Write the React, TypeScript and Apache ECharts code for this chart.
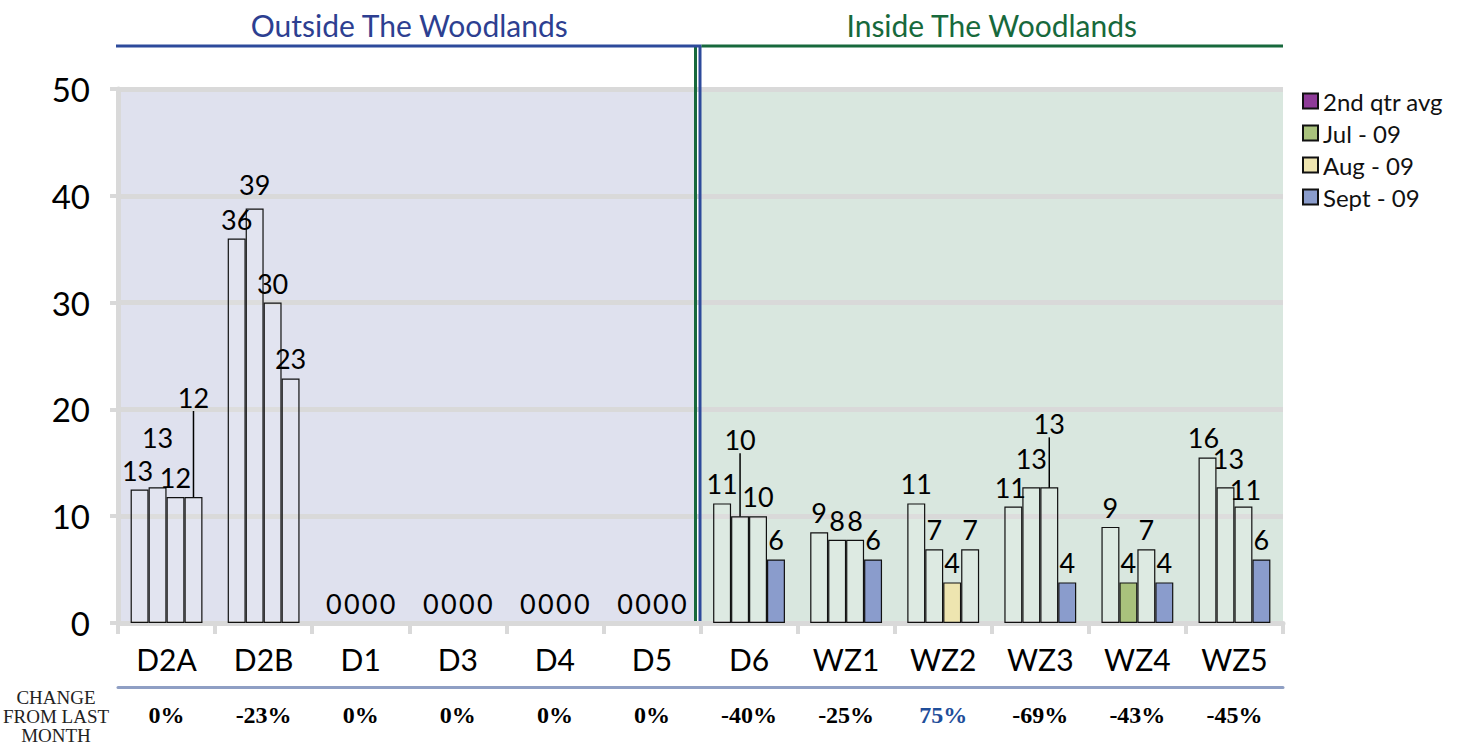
import React, { useEffect, useRef } from "react";
import * as echarts from "echarts";

// ---------- data ----------
const categories = ["D2A", "D2B", "D1", "D3", "D4", "D5", "D6", "WZ1", "WZ2", "WZ3", "WZ4", "WZ5"];
const qtrAvg = [12.5, 36.0, 0, 0, 0, 0, 11.2, 8.5, 11.2, 10.9, 9.0, 15.5];
const jul09 = [12.7, 38.8, 0, 0, 0, 0, 10.0, 7.8, 6.9, 12.7, 3.8, 12.7];
const aug09 = [11.8, 30.0, 0, 0, 0, 0, 10.0, 7.8, 3.8, 12.7, 6.9, 10.9];
const sept09 = [11.8, 22.9, 0, 0, 0, 0, 5.95, 5.95, 6.9, 3.8, 3.8, 5.95];
const changeFromLastMonth = [0, -23, 0, 0, 0, 0, -40, -25, 75, -69, -43, -45];
const yTicks = [0, 10, 20, 30, 40, 50];

// which bars are drawn filled with the series colour
const filledBars: Record<string, string[]> = {
  "2nd qtr avg": [],
  "Jul - 09": ["WZ4"],
  "Aug - 09": ["WZ2"],
  "Sept - 09": ["D6", "WZ1", "WZ3", "WZ4", "WZ5"],
};
// labels moved from their default place: [dx, dy, leader line]
const movedLabels: Record<string, Record<string, [number, number, boolean]>> = {
  "2nd qtr avg": { WZ5: [-4, 0, false], D2A: [-2, 0, false], WZ3: [-3, 0, false] },
  "Jul - 09": {
    D2A: [0, -30, false],
    D2B: [0, -5, false],
    D6: [0, -57, true],
    WZ3: [0, -9, false],
    WZ5: [3, -9, false],
  },
  "Aug - 09": { WZ3: [0, -44, true], WZ5: [2, 2, false] },
  "Sept - 09": { D2A: [0, -80, true] },
};

const seriesDefs = [
  { name: "2nd qtr avg", values: qtrAvg, color: "#8e3b98" },
  { name: "Jul - 09", values: jul09, color: "#a9c27c" },
  { name: "Aug - 09", values: aug09, color: "#eee5b0" },
  { name: "Sept - 09", values: sept09, color: "#8a9ccc" },
];

// ---------- layout ----------
const W = 1469;
const H = 745;
const GL = 118;
const GR = 1283;
const GT = 89;
const GB = 623;
const CATW = (GR - GL) / categories.length;
const SPLIT_X = GL + 6 * CATW;
const FONT = "Lato, 'Open Sans', sans-serif";
const SERIF = "'Liberation Serif', 'DejaVu Serif', serif";

export default function App() {
  const ref = useRef<HTMLDivElement>(null);

  useEffect(() => {
    if (!ref.current) return;
    const chart = echarts.init(ref.current, undefined, { renderer: "svg" });

    const series = seriesDefs.map((s) => ({
      name: s.name,
      type: "bar",
      barGap: "0%",
      barCategoryGap: "26%",
      itemStyle: { color: s.color, borderColor: "#111", borderWidth: 1.2 },
      data: s.values.map((v, i) => {
        const cat = categories[i];
        const filled = filledBars[s.name].includes(cat);
        const mv = movedLabels[s.name]?.[cat];
        return {
          value: v,
          itemStyle: {
            color: filled ? s.color : "rgba(255,255,255,0.12)",
            borderWidth: v === 0 ? 0 : 1.2,
          },
          labelLine: { show: mv ? mv[2] : false },
        };
      }),
      label: {
        show: true,
        position: "top",
        distance: 6,
        color: "#000",
        fontFamily: FONT,
        fontSize: 27,
        formatter: (p: any) => String(Math.round(p.value)),
      },
      labelLine: { show: true, lineStyle: { color: "#000", width: 1.5 } },
      labelLayout: (p: any) => {
        const cat = categories[p.dataIndex];
        const mv = movedLabels[s.name]?.[cat];
        return mv ? { dx: mv[0], dy: mv[1] } : {};
      },
      z: 3,
    }));

    const option: any = {
      animation: false,
      grid: { left: GL, right: W - GR, top: GT, bottom: H - GB, containLabel: false },
      legend: {
        orient: "vertical",
        left: 1297,
        top: 84,
        itemWidth: 15,
        itemHeight: 15,
        itemGap: 8,
        icon: "rect",
        textStyle: { fontFamily: FONT, fontSize: 24, color: "#111" },
        data: seriesDefs.map((s) => s.name),
      },
      xAxis: [
        {
          type: "category",
          data: categories,
          axisLine: { show: true, lineStyle: { color: "#d9d9d9", width: 5 } },
          axisTick: { show: true, length: 11, lineStyle: { color: "#d9d9d9", width: 4 } },
          axisLabel: { color: "#000", fontFamily: FONT, fontSize: 30, margin: 21 },
          splitLine: { show: false },
        },
        {
          type: "category",
          position: "bottom",
          offset: 64,
          data: changeFromLastMonth.map((c) => ({
            value: `${c}%`,
            textStyle: { color: c > 0 ? "#1f4e9a" : "#000" },
          })),
          axisLine: { show: true, lineStyle: { color: "#8f9fc4", width: 3 } },
          axisTick: { show: false },
          axisLabel: {
            fontFamily: SERIF,
            fontWeight: "bold",
            fontSize: 24,
            margin: 16,
          },
        },
      ],
      yAxis: {
        type: "value",
        min: 0,
        max: 50,
        interval: 10,
        axisLine: { show: true, lineStyle: { color: "#d9d9d9", width: 5 } },
        axisTick: { show: true, length: 8, lineStyle: { color: "#d9d9d9", width: 4 } },
        axisLabel: {
          color: "#000",
          fontFamily: FONT,
          fontSize: 33,
          margin: 28,
          formatter: (v: number) => (yTicks.includes(v) ? String(v) : ""),
        },
        splitLine: { show: true, lineStyle: { color: "#d9d9d9", width: 5 } },
      },
      series,
      graphic: [
        {
          type: "rect",
          z: -10,
          silent: true,
          shape: { x: GL, y: GT, width: SPLIT_X - 6 - GL, height: GB - GT },
          style: { fill: "#dfe1ee" },
        },
        {
          type: "rect",
          z: -10,
          silent: true,
          shape: { x: SPLIT_X, y: GT, width: GR - SPLIT_X, height: GB - GT },
          style: { fill: "#d9e7df" },
        },
        {
          type: "line",
          z: 10,
          shape: { x1: SPLIT_X - 5, y1: 46, x2: SPLIT_X - 5, y2: GB - 2 },
          style: { stroke: "#17693c", lineWidth: 3 },
        },
        {
          type: "line",
          z: 10,
          shape: { x1: SPLIT_X - 0.5, y1: 46, x2: SPLIT_X - 0.5, y2: GB - 2 },
          style: { stroke: "#2d4a9b", lineWidth: 3 },
        },
        {
          type: "line",
          z: 10,
          shape: { x1: GL - 2, y1: 46, x2: SPLIT_X + 1, y2: 46 },
          style: { stroke: "#2d4a9b", lineWidth: 3 },
        },
        {
          type: "line",
          z: 10,
          shape: { x1: SPLIT_X + 1, y1: 46, x2: GR, y2: 46 },
          style: { stroke: "#17693c", lineWidth: 3 },
        },
        {
          type: "text",
          x: (GL + SPLIT_X) / 2,
          y: 25,
          style: {
            text: "Outside The Woodlands",
            fill: "#2d3f91",
            font: `30px ${FONT}`,
            textAlign: "center",
            textVerticalAlign: "middle",
          },
        },
        {
          type: "text",
          x: (SPLIT_X + GR) / 2,
          y: 25,
          style: {
            text: "Inside The Woodlands",
            fill: "#17693c",
            font: `30px ${FONT}`,
            textAlign: "center",
            textVerticalAlign: "middle",
          },
        },
        {
          type: "text",
          x: 56,
          y: 716,
          style: {
            text: "CHANGE\nFROM LAST\nMONTH",
            fill: "#222",
            font: `19px ${SERIF}`,
            lineHeight: 19,
            textAlign: "center",
            textVerticalAlign: "middle",
          },
        },
      ],
    };

    chart.setOption(option);
    return () => chart.dispose();
  }, []);

  return (
    <div
      ref={ref}
      style={{ position: "fixed", left: 0, top: 0, width: W, height: H, background: "#fff" }}
    />
  );
}
